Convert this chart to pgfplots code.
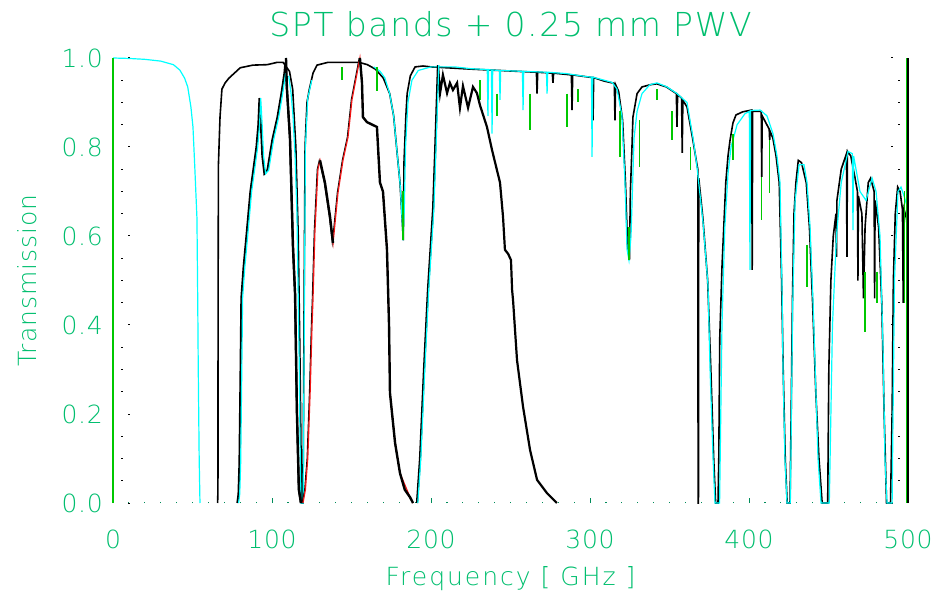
\documentclass[border=0pt]{standalone}
\usepackage{fontspec}
\setmainfont{DejaVu Sans ExtraLight}
\newfontfamily\titlefont{DejaVu Sans ExtraLight}[LetterSpace=5]
\newfontfamily\labfont{DejaVu Sans ExtraLight}[LetterSpace=8]
\newfontfamily\ylabfont{DejaVu Sans ExtraLight}[LetterSpace=4]
\newfontfamily\tickfont{DejaVu Sans ExtraLight}[LetterSpace=3]
\usepackage{pgfplots}
\pgfplotsset{compat=1.18}
\definecolor{txt}{RGB}{0,190,110}
\definecolor{axg}{RGB}{0,200,0}
\definecolor{cy}{RGB}{0,255,255}
\definecolor{gr}{RGB}{0,200,0}
\definecolor{rd}{RGB}{240,20,20}
\definecolor{tk}{RGB}{0,140,90}
\begin{document}
\begin{tikzpicture}
\begin{axis}[
  name=ax, scale only axis, width=795bp, height=445bp,
  xmin=0, xmax=500, ymin=0, ymax=1, clip=false,
  axis line style={draw=none},
  tick align=inside,
  xtick={0,100,200,300,400,500}, minor x tick num=9,
  ytick={0,0.2,0.4,0.6,0.8,1.0}, minor y tick num=3,
  xtick pos=bottom, ytick pos=both,
  major tick length=17bp, minor tick length=10bp,
  major x tick style={draw=tk, line width=0.8bp, dash pattern=on 5bp off 30bp},
  minor x tick style={draw=tk, line width=1.2bp, dash pattern=on 1.2bp off 30bp},
  major y tick style={draw=black, line width=1bp, dash pattern=on 0bp off 15.5bp on 1.5bp off 30bp},
  minor y tick style={draw=black, line width=1bp, dash pattern=on 0bp off 8.5bp on 1.5bp off 30bp},
  ticklabel style={font=\tickfont\fontsize{25bp}{30bp}\selectfont, text=txt},
  /pgf/number format/assume math mode=true,
  yticklabel style={/pgf/number format/.cd, fixed, fixed zerofill, precision=1, /tikz/.cd, anchor=east, inner sep=0pt, xshift=-10bp},
  xticklabel style={anchor=north, inner sep=0pt, yshift=-27bp},
  title={SPT bands + 0.25 mm PWV},
  title style={font=\titlefont\fontsize{33bp}{40bp}\selectfont, text=txt, at={(axis description cs:0.5,1)}, anchor=base, yshift=16bp},
  xlabel={Frequency [ GHz ]},
  xlabel style={font=\labfont\fontsize{25bp}{30bp}\selectfont, text=txt, at={(axis description cs:0.5,0)}, anchor=base, yshift=-82bp},
  ylabel={Transmission},
  ylabel style={font=\ylabfont\fontsize{25bp}{30bp}\selectfont, text=txt, at={(axis description cs:-0.0956,0.5)}, anchor=base},
  unbounded coords=jump,
]
% black atmosphere model
\addplot[black, line width=1.6bp] coordinates {
(65.8,0)(66.0,0.03)(66.1,0.45)(66.3,0.76)(67.3,0.867)(68.5,0.93)(70.5,0.944)(73,0.955)(80,0.978)(88,0.984)(97,0.985)(103,0.99)(107,0.99)
(111,0.97)(113,0.93)(115,0.8)(116.5,0.6)(117.5,0.35)(118.3,0.1)(118.8,0)(119.5,0)(120.2,0.46)(120.8,0.8)(122,0.9)(123.5,0.93)(125.8,0.966)(128.3,0.984)(135,0.99)(143.6,0.99)(155,0.99)(160,0.985)(165,0.975)(170,0.955)(174,0.92)
(176.5,0.87)(178.6,0.79)(180.5,0.72)(181.8,0.64)(182.6,0.59)(183.0,0.764)(184.2,0.87)(185,0.92)(187,0.96)(190,0.98)(195,0.982)(200,0.98)(225,0.975)
(266.3,0.968)(266.7,0.92)(267.1,0.968)(276.3,0.966)(276.7,0.944)(277.1,0.966)(288.3,0.962)(288.7,0.883)(289.1,0.962)(301.5,0.956)(301.9,0.86)(302.3,0.956)
(309,0.948)(315.3,0.943)(315.7,0.86)(316.1,0.94)(318,0.925)(320.5,0.86)(322.3,0.72)(323.6,0.58)(324.8,0.546)(325.4,0.7)(326.4,0.8)(327,0.867)(329.6,0.92)(332.7,0.935)(338,0.94)(342,0.942)(348,0.935)
(354.3,0.92)(354.7,0.845)(355.1,0.918)(357.6,0.91)(358,0.787)(358.4,0.905)(361,0.89)(364.5,0.82)(367.3,0.76)(367.8,0.75)(368,0)(368.2,0)(368.4,0.73)(371,0.64)(374,0.5)(376,0.3)(377.8,0.1)(379,0)
(380.5,0)(381,0.1)(381.6,0.37)(382.4,0.46)(383,0.53)(385.4,0.72)(386.8,0.78)(388.1,0.816)(389.9,0.854)(391.8,0.872)(396,0.879)(401.7,0.883)(402,0.524)(402.3,0.88)(406,0.88)(407.7,0.88)(408,0.733)(408.3,0.87)
(412.7,0.84)(413,0.816)(413.3,0.835)(415,0.82)(417,0.78)(419,0.72)(420.5,0.5)(421.5,0.3)(422.8,0.1)(424,0)(425.8,0)(426.5,0.2)(427.3,0.45)(428.3,0.65)(429.5,0.72)(431,0.77)(433,0.765)(436,0.72)(438,0.62)(440,0.45)(442,0.25)(444,0.1)(446,0)
(449.5,0)(450.2,0.3)(451.5,0.5)(453,0.6)(454.7,0.65)(455,0.553)(455.3,0.68)(458,0.75)(461.3,0.785)(461.6,0.553)(461.9,0.79)(464,0.78)(466.7,0.73)(468.2,0.7)(468.5,0.5)(468.8,0.69)(471,0.65)(472,0.46)(473,0.62)(475,0.72)(476.5,0.73)(478.7,0.7)(479,0.46)(479.3,0.68)(481.5,0.62)(483.5,0.45)(485,0.2)(486.5,0)
(489,0)(490,0.2)(490.8,0.5)(492,0.65)(493.5,0.71)(495,0.7)(496.5,0.66)(497,0.45)(497.5,0.66)(499,0.64)(500,0.6)
};
% cyan atmosphere model
\addplot[cy, line width=1.2bp] coordinates {
(0,1.0)(10,0.999)(20,0.997)(30,0.993)(38,0.985)(42,0.973)(45,0.955)(47,0.935)(49,0.89)(50.3,0.845)(51.5,0.75)(52.8,0.64)(53.3,0.45)(53.6,0.31)(54.2,0.1)(54.7,0)
(nan,nan)
(110.5,0.96)(112,0.92)(113.2,0.87)(114.5,0.78)(115.7,0.65)(116.4,0.48)(117.2,0.3)(117.6,0.15)(118.2,0)(119.6,0)(120.3,0.4)(121,0.8)(122.5,0.91)(125,0.95)
(nan,nan)
(164,0.98)(168,0.97)(171,0.955)(174,0.92)(176.5,0.87)(178.6,0.79)(180.5,0.72)(181.8,0.64)(182.4,0.59)(183.2,0.66)(184,0.8)(185.5,0.9)(188,0.95)(192,0.972)(200,0.98)(215,0.98)(225,0.976)
(235.4,0.974)(235.8,0.87)(236.2,0.974)(238.0,0.973)(238.4,0.83)(238.8,0.973)(243.0,0.972)(243.4,0.906)(243.8,0.972)(257.5,0.97)(257.9,0.883)(258.3,0.97)(272.6,0.968)(273,0.92)(273.4,0.968)
(285,0.965)(298,0.958)(300.9,0.957)(301.3,0.778)(301.7,0.957)(309,0.95)(314,0.945)(317,0.93)(320.1,0.87)(322,0.72)(323.3,0.57)(324.5,0.546)(325.8,0.6)(327.7,0.82)(329.6,0.88)(332.7,0.92)(337.7,0.94)(342.1,0.944)(348.4,0.935)(354.7,0.92)(361,0.9)(364.8,0.82)(367.3,0.755)(371.1,0.63)(374.2,0.49)(375.5,0.3)(377.4,0.1)(378.6,0)
(381.5,0)(383,0.4)(384.8,0.62)(386.8,0.74)(388.7,0.8)(392.5,0.85)(397.5,0.875)(400.2,0.88)(400.6,0.524)(401.0,0.882)(407,0.883)(411.3,0.87)(415.1,0.83)(417.6,0.78)(419.5,0.72)(420.8,0.48)(421.4,0.3)(422.6,0.1)(423.9,0)
(426,0)(427.5,0.45)(429,0.68)(431.5,0.76)(434.6,0.76)(436.5,0.72)(438.4,0.62)(440.3,0.45)(442.1,0.25)(443.4,0.1)(445.3,0)
(450.5,0)(452.5,0.4)(455,0.6)(458,0.72)(462.3,0.79)(465,0.785)(465.4,0.613)(465.8,0.78)(467.3,0.75)(469.8,0.7)(473.6,0.68)(477.4,0.73)(479.9,0.7)(482.4,0.6)(484.3,0.35)(485.5,0.1)(486.8,0)
(490,0)(491.5,0.5)(493.7,0.7)(495.6,0.71)(497.5,0.69)(500,0.66)
};
% green line cores
\addplot[gr, line width=1.3bp] coordinates {
(144,0.98)(144,0.95)(nan,nan)(166,0.98)(166,0.925)(nan,nan)(182.4,0.70)(182.4,0.59)(nan,nan)
(230.8,0.95)(230.8,0.906)(nan,nan)(241.5,0.92)(241.5,0.87)(nan,nan)(262.3,0.92)(262.3,0.838)(nan,nan)
(285.5,0.92)(285.5,0.845)(nan,nan)(292.5,0.93)(292.5,0.9)(nan,nan)(318.9,0.88)(318.9,0.778)(nan,nan)
(324.5,0.62)(324.5,0.546)(nan,nan)(331,0.86)(331,0.755)(nan,nan)(342.1,0.93)(342.1,0.906)(nan,nan)
(351.6,0.88)(351.6,0.816)(nan,nan)(363,0.8)(363,0.748)(nan,nan)(390,0.83)(390,0.771)(nan,nan)
(408,0.733)(408,0.636)(nan,nan)(413,0.816)(413,0.697)(nan,nan)(436.5,0.58)(436.5,0.485)(nan,nan)
(473,0.52)(473,0.384)(nan,nan)(480.5,0.52)(480.5,0.45)(nan,nan)(498,0.7)(498,0.45)
};
% 95 GHz band
\addplot[black, line width=2bp] coordinates {
(78.2,0)(78.9,0.02)(79.5,0.09)(80.2,0.3)(80.7,0.46)(82.1,0.53)(83.9,0.6)(86.4,0.7)(88.3,0.75)(90.2,0.8)(91.4,0.85)(92.1,0.91)(93.0,0.85)(93.9,0.78)(95.2,0.74)(97.1,0.748)(100.2,0.816)(103.4,0.867)(105.9,0.92)(107.8,0.966)(108.4,0.99)(109.4,0.93)(111.3,0.82)(113.2,0.575)(114.5,0.47)(115.7,0.2)(116.9,0.03)(118.2,0)
};
\addplot[cy, line width=1.2bp] coordinates {
(79.0,0)(79.7,0.02)(80.3,0.09)(81.0,0.3)(81.5,0.46)(82.9,0.53)(84.7,0.6)(87.2,0.7)(89.1,0.75)(91.0,0.8)(92.2,0.85)(92.9,0.91)(93.8,0.85)(94.7,0.78)(96.0,0.74)(97.9,0.748)(101.0,0.816)(104.2,0.867)(106.7,0.92)(108.6,0.966)(109.0,1.0)
};
\addplot[black, line width=2.4bp] coordinates {
(108.8,1.0)(109.4,0.93)(111.3,0.82)(113.2,0.575)(114.5,0.47)(115.7,0.2)(116.9,0.03)(118.2,0)
};
% 150 GHz band
\addplot[black, line width=0.9bp] coordinates {
(119.0,0)(120.5,0.03)(122.0,0.1)(123.5,0.25)(124.7,0.4)(125.3,0.46)(126.5,0.61)(128.4,0.75)(129.7,0.77)(132.8,0.72)(136.0,0.643)(137.9,0.584)(141.0,0.697)(144.2,0.771)(147.3,0.822)(149.8,0.906)(153.0,0.966)(154.8,1.0)
};
\addplot[rd, line width=1.2bp] coordinates {
(119.5,0)(121,0.03)(122.5,0.1)(124,0.25)(125.2,0.4)(125.8,0.46)(127,0.61)(128.9,0.75)(130.2,0.77)(133.3,0.72)(136.5,0.643)(138.4,0.584)(141.5,0.697)(144.7,0.771)(147.8,0.822)(150.3,0.906)(153.5,0.966)(155.3,1.0)(156.6,0.944)(157.2,0.867)(159.7,0.856)(166,0.845)(167.9,0.72)(169.8,0.7)(172.3,0.57)(173,0.48)(173.6,0.4)(174.2,0.247)(177.4,0.135)(180.5,0.067)(186.8,0.013)(188.7,0)
};
\addplot[black, line width=2.4bp] coordinates {
(130.2,0.77)(133.3,0.72)(136.5,0.643)(138.4,0.584)
};
\addplot[black, line width=2.4bp] coordinates {
(155.3,1.0)(156.6,0.944)(157.2,0.867)(159.7,0.856)(166,0.845)(167.9,0.72)(169.8,0.7)(172.3,0.57)(173,0.48)(173.6,0.4)(174.2,0.247)(177.4,0.135)(180.5,0.067)(183.5,0.03)(186.8,0.013)(188.7,0)
};
% 220 GHz band
\addplot[black, line width=2.2bp] coordinates {
(191.2,0)(193.1,0.1)(195.6,0.3)(198.1,0.48)(201.3,0.66)(202.5,0.78)(203.8,0.92)(204.4,0.984)(205.7,0.921)(207.5,0.962)(210.1,0.921)(211.9,0.944)(213.8,0.928)(216.4,0.944)(218.2,0.888)(220.1,0.937)(223.3,0.888)(226.4,0.935)(228.9,0.921)(230.8,0.894)(235.2,0.845)(238.4,0.793)(243.4,0.72)(245.3,0.643)(246.5,0.569)(248.5,0.56)(250.3,0.546)(251,0.479)(251.6,0.456)(254.1,0.321)(257.9,0.216)(262.3,0.119)(266.7,0.052)(273,0.022)(279.2,0)
};
\addplot[cy, line width=1.2bp] coordinates {
(191.7,0)(193.6,0.1)(196.1,0.3)(198.6,0.48)(201.8,0.66)(203.0,0.78)(204.3,0.92)(204.9,0.984)
};
% axis lines
\addplot[axg, line width=1.6bp] coordinates {(0,0)(0,1)};
\addplot[axg, line width=1bp] coordinates {(499.2,0)(499.2,1)};
\addplot[black, line width=1.4bp] coordinates {(500,0)(500,1)};
\end{axis}
\pgfresetboundingbox
\path ([xshift=-113bp,yshift=-91bp]ax.south west) rectangle ([xshift=30bp,yshift=58bp]ax.north east);
\end{tikzpicture}
\end{document}
